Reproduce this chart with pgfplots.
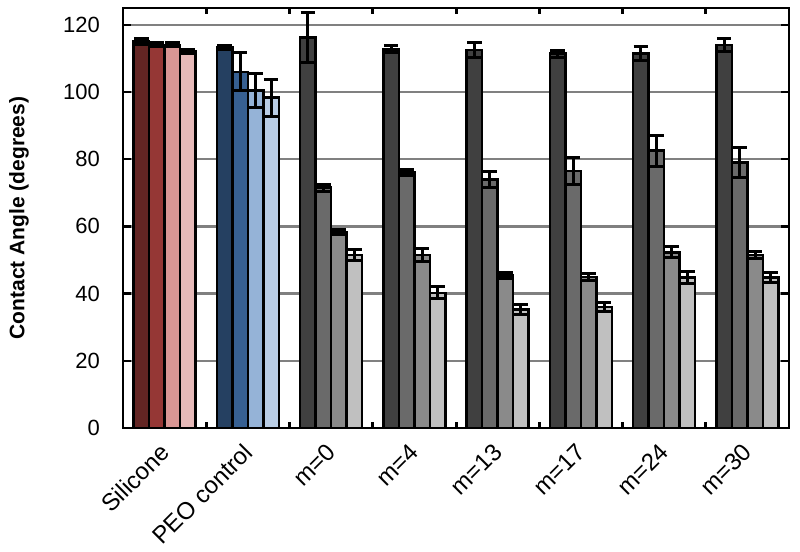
\documentclass[border=0pt]{standalone}
\usepackage{fontspec}
\setmainfont{Liberation Sans}
\usepackage{pgfplots}
\pgfplotsset{compat=1.18}
\usetikzlibrary{calc}

\definecolor{sil1}{HTML}{632523}
\definecolor{sil2}{HTML}{953735}
\definecolor{sil3}{HTML}{D99694}
\definecolor{sil4}{HTML}{E6B9B8}
\definecolor{peo1}{HTML}{254061}
\definecolor{peo2}{HTML}{376092}
\definecolor{peo3}{HTML}{95B3D7}
\definecolor{peo4}{HTML}{B9CDE5}
\definecolor{g1}{HTML}{404040}
\definecolor{g2}{HTML}{6A6A6A}
\definecolor{g3}{HTML}{8A8A8A}
\definecolor{g4}{HTML}{C0C0C0}

% bars are 0.186 axis units (7.75pt) wide; four slots per group
\pgfplotsset{
  cabar/.style={ybar, bar width=7.75pt, bar shift=0pt, draw=black, line width=1.3pt,
    /pgfplots/error bars/y dir=both, /pgfplots/error bars/y explicit,
    /pgfplots/error bars/error bar style={black, line width=1.5pt},
    /pgfplots/error bars/error mark options={rotate=90, black, mark size=3.6pt, line width=1.5pt}},
}

\begin{document}
\begin{tikzpicture}
\begin{axis}[name=ax, scale only axis, width=333pt, height=210pt,
  xmin=-0.5, xmax=7.5, ymin=0, ymax=125,
  ytick={0,20,...,120},
  xtick={0,...,7},
  xticklabels={Silicone, PEO control, m=0, m=4, m=13, m=17, m=24, m=30},
  minor xtick={0.5,1.5,...,6.5},
  major x tick style={draw=none},
  minor tick length=3pt,
  minor tick style={black, line width=1.5pt},
  major tick length=4pt,
  y tick style={black, line width=1.2pt},
  x tick label style={font=\fontsize{12}{14}\selectfont, yshift=-2pt, xshift=-3pt, rotate=45, anchor=north east},
  y tick label style={font=\fontsize{11}{13}\selectfont, xshift=-8pt},
  /pgf/number format/assume math mode=true,
  ymajorgrids, grid style={gray, line width=1.2pt},
  axis line style={black, line width=1.2pt},
  ylabel={Contact Angle (degrees)},
  every axis y label/.style={at={(axis description cs:-0.156,0.5)}, rotate=90, anchor=center,
    font=\fontsize{10.5}{12}\selectfont\bfseries},
]
% Silicone
\addplot[cabar, fill=sil1] table[x expr=\thisrow{g}-0.279, y=v, y error=e] {
g v e
0 115 0.8
};
\addplot[cabar, fill=sil2] table[x expr=\thisrow{g}-0.093, y=v, y error=e] {
g v e
0 114 0.6
};
\addplot[cabar, fill=sil3] table[x expr=\thisrow{g}+0.093, y=v, y error=e] {
g v e
0 114 0.6
};
\addplot[cabar, fill=sil4] table[x expr=\thisrow{g}+0.279, y=v, y error=e] {
g v e
0 112 0.6
};
% PEO control
\addplot[cabar, fill=peo1] table[x expr=\thisrow{g}-0.279, y=v, y error=e] {
g v e
1 113.3 0.6
};
\addplot[cabar, fill=peo2] table[x expr=\thisrow{g}-0.093, y=v, y error=e] {
g v e
1 106 5.7
};
\addplot[cabar, fill=peo3] table[x expr=\thisrow{g}+0.093, y=v, y error=e] {
g v e
1 100.5 5
};
\addplot[cabar, fill=peo4] table[x expr=\thisrow{g}+0.279, y=v, y error=e] {
g v e
1 98.3 5.5
};
% m = 0, 4, 13, 17, 24, 30
\addplot[cabar, fill=g1] table[x expr=\thisrow{g}-0.279, y=v, y error=e] {
g v e
2 116.3 7.5
3 112.7 1
4 112.5 2.3
5 111.4 1
6 111.5 2
7 114 1.9
};
\addplot[cabar, fill=g2] table[x expr=\thisrow{g}-0.093, y=v, y error=e] {
g v e
2 71.5 1
3 76 1
4 74 2.4
5 76.5 4
6 82.5 4.7
7 79 4.5
};
\addplot[cabar, fill=g3] table[x expr=\thisrow{g}+0.093, y=v, y error=e] {
g v e
2 58.3 0.7
3 51.5 2
4 45.4 1
5 45 1
6 52.3 1.6
7 51.5 1
};
\addplot[cabar, fill=g4] table[x expr=\thisrow{g}+0.279, y=v, y error=e] {
g v e
2 51.5 1.5
3 40.2 1.8
4 35.2 1.5
5 36 1.3
6 44.8 1.8
7 44.8 1.5
};
\end{axis}
\pgfresetboundingbox
\path[use as bounding box] ($(ax.south west)+(-61.5pt,-61.5pt)$) rectangle ($(ax.north east)+(5.5pt,4pt)$);
\end{tikzpicture}
\end{document}
